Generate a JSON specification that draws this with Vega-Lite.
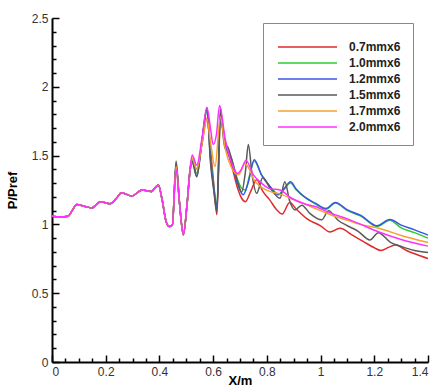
{
  "$schema": "https://vega.github.io/schema/vega-lite/v6.json",
  "autosize": {"type": "none"},
  "padding": {"left": 52, "top": 18, "right": 9, "bottom": 27},
  "width": 376,
  "height": 344,
  "background": "white",
  "config": {
    "view": {"stroke": null},
    "axis": {
      "labelFont": "Liberation Sans", "labelFontSize": 12, "labelColor": "#333",
      "titleFont": "Liberation Sans", "titleFontSize": 13, "titleFontWeight": "bold", "titleColor": "#000"
    }
  },
  "data": {"values": [
    {"s":"0.7mmx6","x":0,"y":1.06},{"s":"0.7mmx6","x":0.03,"y":1.055},{"s":"0.7mmx6","x":0.06,"y":1.06},{"s":"0.7mmx6","x":0.075,"y":1.1},{"s":"0.7mmx6","x":0.092,"y":1.145},{"s":"0.7mmx6","x":0.12,"y":1.132},{"s":"0.7mmx6","x":0.148,"y":1.12},{"s":"0.7mmx6","x":0.181,"y":1.164},{"s":"0.7mmx6","x":0.216,"y":1.15},{"s":"0.7mmx6","x":0.24,"y":1.19},{"s":"0.7mmx6","x":0.259,"y":1.23},{"s":"0.7mmx6","x":0.297,"y":1.207},{"s":"0.7mmx6","x":0.336,"y":1.25},{"s":"0.7mmx6","x":0.369,"y":1.239},{"s":"0.7mmx6","x":0.396,"y":1.287},{"s":"0.7mmx6","x":0.41,"y":1.18},{"s":"0.7mmx6","x":0.425,"y":1.02},{"s":"0.7mmx6","x":0.437,"y":0.985},{"s":"0.7mmx6","x":0.448,"y":0.995},
    {"s":"0.7mmx6","x":0.462,"y":1.42},{"s":"0.7mmx6","x":0.475,"y":1.15},{"s":"0.7mmx6","x":0.489,"y":0.925},{"s":"0.7mmx6","x":0.503,"y":1.15},{"s":"0.7mmx6","x":0.514,"y":1.4},{"s":"0.7mmx6","x":0.522,"y":1.48},{"s":"0.7mmx6","x":0.539,"y":1.4},{"s":"0.7mmx6","x":0.558,"y":1.58},{"s":"0.7mmx6","x":0.577,"y":1.77},{"s":"0.7mmx6","x":0.59,"y":1.55},{"s":"0.7mmx6","x":0.602,"y":1.3},{"s":"0.7mmx6","x":0.614,"y":1.07},{"s":"0.7mmx6","x":0.627,"y":1.75},{"s":"0.7mmx6","x":0.645,"y":1.6},{"s":"0.7mmx6","x":0.67,"y":1.42},{"s":"0.7mmx6","x":0.69,"y":1.27},{"s":"0.7mmx6","x":0.706,"y":1.19},{"s":"0.7mmx6","x":0.72,"y":1.165},{"s":"0.7mmx6","x":0.74,"y":1.24},{"s":"0.7mmx6","x":0.762,"y":1.325},{"s":"0.7mmx6","x":0.785,"y":1.24},{"s":"0.7mmx6","x":0.81,"y":1.18},{"s":"0.7mmx6","x":0.835,"y":1.11},{"s":"0.7mmx6","x":0.857,"y":1.075},{"s":"0.7mmx6","x":0.885,"y":1.16},{"s":"0.7mmx6","x":0.91,"y":1.11},{"s":"0.7mmx6","x":0.95,"y":1.04},{"s":"0.7mmx6","x":1.0,"y":0.99},{"s":"0.7mmx6","x":1.035,"y":0.945},{"s":"0.7mmx6","x":1.072,"y":0.972},{"s":"0.7mmx6","x":1.12,"y":0.92},{"s":"0.7mmx6","x":1.16,"y":0.875},{"s":"0.7mmx6","x":1.2,"y":0.83},{"s":"0.7mmx6","x":1.225,"y":0.81},{"s":"0.7mmx6","x":1.255,"y":0.835},{"s":"0.7mmx6","x":1.28,"y":0.85},{"s":"0.7mmx6","x":1.32,"y":0.81},{"s":"0.7mmx6","x":1.36,"y":0.78},{"s":"0.7mmx6","x":1.4,"y":0.752},

    {"s":"1.0mmx6","x":0,"y":1.06},{"s":"1.0mmx6","x":0.03,"y":1.055},{"s":"1.0mmx6","x":0.06,"y":1.06},{"s":"1.0mmx6","x":0.075,"y":1.1},{"s":"1.0mmx6","x":0.092,"y":1.145},{"s":"1.0mmx6","x":0.12,"y":1.132},{"s":"1.0mmx6","x":0.148,"y":1.12},{"s":"1.0mmx6","x":0.181,"y":1.164},{"s":"1.0mmx6","x":0.216,"y":1.15},{"s":"1.0mmx6","x":0.24,"y":1.19},{"s":"1.0mmx6","x":0.259,"y":1.23},{"s":"1.0mmx6","x":0.297,"y":1.207},{"s":"1.0mmx6","x":0.336,"y":1.25},{"s":"1.0mmx6","x":0.369,"y":1.239},{"s":"1.0mmx6","x":0.396,"y":1.287},{"s":"1.0mmx6","x":0.41,"y":1.18},{"s":"1.0mmx6","x":0.425,"y":1.02},{"s":"1.0mmx6","x":0.437,"y":0.985},{"s":"1.0mmx6","x":0.448,"y":0.995},
    {"s":"1.0mmx6","x":0.462,"y":1.43},{"s":"1.0mmx6","x":0.475,"y":1.15},{"s":"1.0mmx6","x":0.489,"y":0.925},{"s":"1.0mmx6","x":0.503,"y":1.15},{"s":"1.0mmx6","x":0.514,"y":1.39},{"s":"1.0mmx6","x":0.522,"y":1.47},{"s":"1.0mmx6","x":0.539,"y":1.37},{"s":"1.0mmx6","x":0.558,"y":1.6},{"s":"1.0mmx6","x":0.577,"y":1.82},{"s":"1.0mmx6","x":0.59,"y":1.5},{"s":"1.0mmx6","x":0.602,"y":1.28},{"s":"1.0mmx6","x":0.614,"y":1.14},{"s":"1.0mmx6","x":0.627,"y":1.78},{"s":"1.0mmx6","x":0.645,"y":1.6},{"s":"1.0mmx6","x":0.67,"y":1.47},{"s":"1.0mmx6","x":0.69,"y":1.33},{"s":"1.0mmx6","x":0.708,"y":1.26},{"s":"1.0mmx6","x":0.72,"y":1.25},{"s":"1.0mmx6","x":0.735,"y":1.35},{"s":"1.0mmx6","x":0.753,"y":1.46},{"s":"1.0mmx6","x":0.78,"y":1.36},{"s":"1.0mmx6","x":0.81,"y":1.28},{"s":"1.0mmx6","x":0.843,"y":1.22},{"s":"1.0mmx6","x":0.865,"y":1.26},{"s":"1.0mmx6","x":0.888,"y":1.3},{"s":"1.0mmx6","x":0.91,"y":1.25},{"s":"1.0mmx6","x":0.94,"y":1.2},{"s":"1.0mmx6","x":0.98,"y":1.15},{"s":"1.0mmx6","x":1.02,"y":1.11},{"s":"1.0mmx6","x":1.055,"y":1.155},{"s":"1.0mmx6","x":1.1,"y":1.1},{"s":"1.0mmx6","x":1.15,"y":1.06},{"s":"1.0mmx6","x":1.21,"y":0.985},{"s":"1.0mmx6","x":1.258,"y":1.03},{"s":"1.0mmx6","x":1.3,"y":0.975},{"s":"1.0mmx6","x":1.35,"y":0.94},{"s":"1.0mmx6","x":1.4,"y":0.9},

    {"s":"1.2mmx6","x":0,"y":1.06},{"s":"1.2mmx6","x":0.03,"y":1.055},{"s":"1.2mmx6","x":0.06,"y":1.06},{"s":"1.2mmx6","x":0.075,"y":1.1},{"s":"1.2mmx6","x":0.092,"y":1.145},{"s":"1.2mmx6","x":0.12,"y":1.132},{"s":"1.2mmx6","x":0.148,"y":1.12},{"s":"1.2mmx6","x":0.181,"y":1.164},{"s":"1.2mmx6","x":0.216,"y":1.15},{"s":"1.2mmx6","x":0.24,"y":1.19},{"s":"1.2mmx6","x":0.259,"y":1.23},{"s":"1.2mmx6","x":0.297,"y":1.207},{"s":"1.2mmx6","x":0.336,"y":1.25},{"s":"1.2mmx6","x":0.369,"y":1.239},{"s":"1.2mmx6","x":0.396,"y":1.287},{"s":"1.2mmx6","x":0.41,"y":1.18},{"s":"1.2mmx6","x":0.425,"y":1.02},{"s":"1.2mmx6","x":0.437,"y":0.985},{"s":"1.2mmx6","x":0.448,"y":0.995},
    {"s":"1.2mmx6","x":0.462,"y":1.44},{"s":"1.2mmx6","x":0.475,"y":1.15},{"s":"1.2mmx6","x":0.489,"y":0.925},{"s":"1.2mmx6","x":0.503,"y":1.15},{"s":"1.2mmx6","x":0.514,"y":1.39},{"s":"1.2mmx6","x":0.522,"y":1.46},{"s":"1.2mmx6","x":0.539,"y":1.35},{"s":"1.2mmx6","x":0.558,"y":1.6},{"s":"1.2mmx6","x":0.577,"y":1.83},{"s":"1.2mmx6","x":0.59,"y":1.48},{"s":"1.2mmx6","x":0.602,"y":1.27},{"s":"1.2mmx6","x":0.614,"y":1.12},{"s":"1.2mmx6","x":0.627,"y":1.8},{"s":"1.2mmx6","x":0.645,"y":1.58},{"s":"1.2mmx6","x":0.67,"y":1.45},{"s":"1.2mmx6","x":0.69,"y":1.3},{"s":"1.2mmx6","x":0.712,"y":1.215},{"s":"1.2mmx6","x":0.73,"y":1.3},{"s":"1.2mmx6","x":0.753,"y":1.47},{"s":"1.2mmx6","x":0.78,"y":1.36},{"s":"1.2mmx6","x":0.81,"y":1.28},{"s":"1.2mmx6","x":0.843,"y":1.215},{"s":"1.2mmx6","x":0.865,"y":1.26},{"s":"1.2mmx6","x":0.888,"y":1.31},{"s":"1.2mmx6","x":0.91,"y":1.255},{"s":"1.2mmx6","x":0.94,"y":1.2},{"s":"1.2mmx6","x":0.98,"y":1.155},{"s":"1.2mmx6","x":1.02,"y":1.115},{"s":"1.2mmx6","x":1.055,"y":1.16},{"s":"1.2mmx6","x":1.1,"y":1.105},{"s":"1.2mmx6","x":1.15,"y":1.065},{"s":"1.2mmx6","x":1.21,"y":0.99},{"s":"1.2mmx6","x":1.258,"y":1.035},{"s":"1.2mmx6","x":1.3,"y":0.995},{"s":"1.2mmx6","x":1.35,"y":0.96},{"s":"1.2mmx6","x":1.4,"y":0.922},

    {"s":"1.5mmx6","x":0,"y":1.06},{"s":"1.5mmx6","x":0.03,"y":1.055},{"s":"1.5mmx6","x":0.06,"y":1.06},{"s":"1.5mmx6","x":0.075,"y":1.1},{"s":"1.5mmx6","x":0.092,"y":1.145},{"s":"1.5mmx6","x":0.12,"y":1.132},{"s":"1.5mmx6","x":0.148,"y":1.12},{"s":"1.5mmx6","x":0.181,"y":1.164},{"s":"1.5mmx6","x":0.216,"y":1.15},{"s":"1.5mmx6","x":0.24,"y":1.19},{"s":"1.5mmx6","x":0.259,"y":1.23},{"s":"1.5mmx6","x":0.297,"y":1.207},{"s":"1.5mmx6","x":0.336,"y":1.25},{"s":"1.5mmx6","x":0.369,"y":1.239},{"s":"1.5mmx6","x":0.396,"y":1.287},{"s":"1.5mmx6","x":0.41,"y":1.18},{"s":"1.5mmx6","x":0.425,"y":1.02},{"s":"1.5mmx6","x":0.437,"y":0.985},{"s":"1.5mmx6","x":0.448,"y":0.995},
    {"s":"1.5mmx6","x":0.462,"y":1.46},{"s":"1.5mmx6","x":0.475,"y":1.15},{"s":"1.5mmx6","x":0.489,"y":0.925},{"s":"1.5mmx6","x":0.503,"y":1.15},{"s":"1.5mmx6","x":0.514,"y":1.39},{"s":"1.5mmx6","x":0.522,"y":1.45},{"s":"1.5mmx6","x":0.539,"y":1.345},{"s":"1.5mmx6","x":0.558,"y":1.6},{"s":"1.5mmx6","x":0.577,"y":1.85},{"s":"1.5mmx6","x":0.59,"y":1.45},{"s":"1.5mmx6","x":0.602,"y":1.25},{"s":"1.5mmx6","x":0.614,"y":1.09},{"s":"1.5mmx6","x":0.627,"y":1.85},{"s":"1.5mmx6","x":0.638,"y":1.63},{"s":"1.5mmx6","x":0.645,"y":1.55},{"s":"1.5mmx6","x":0.652,"y":1.57},{"s":"1.5mmx6","x":0.665,"y":1.5},{"s":"1.5mmx6","x":0.69,"y":1.32},{"s":"1.5mmx6","x":0.706,"y":1.235},{"s":"1.5mmx6","x":0.72,"y":1.38},{"s":"1.5mmx6","x":0.731,"y":1.58},{"s":"1.5mmx6","x":0.745,"y":1.36},{"s":"1.5mmx6","x":0.762,"y":1.226},{"s":"1.5mmx6","x":0.785,"y":1.34},{"s":"1.5mmx6","x":0.81,"y":1.27},{"s":"1.5mmx6","x":0.849,"y":1.19},{"s":"1.5mmx6","x":0.867,"y":1.31},{"s":"1.5mmx6","x":0.885,"y":1.17},{"s":"1.5mmx6","x":0.905,"y":1.105},{"s":"1.5mmx6","x":0.93,"y":1.14},{"s":"1.5mmx6","x":0.96,"y":1.08},{"s":"1.5mmx6","x":1.004,"y":1.033},{"s":"1.5mmx6","x":1.03,"y":1.1},{"s":"1.5mmx6","x":1.065,"y":1.03},{"s":"1.5mmx6","x":1.1,"y":0.99},{"s":"1.5mmx6","x":1.14,"y":0.95},{"s":"1.5mmx6","x":1.184,"y":0.887},{"s":"1.5mmx6","x":1.215,"y":0.94},{"s":"1.5mmx6","x":1.26,"y":0.87},{"s":"1.5mmx6","x":1.3,"y":0.84},{"s":"1.5mmx6","x":1.35,"y":0.81},{"s":"1.5mmx6","x":1.4,"y":0.795},

    {"s":"1.7mmx6","x":0,"y":1.06},{"s":"1.7mmx6","x":0.03,"y":1.055},{"s":"1.7mmx6","x":0.06,"y":1.06},{"s":"1.7mmx6","x":0.075,"y":1.1},{"s":"1.7mmx6","x":0.092,"y":1.145},{"s":"1.7mmx6","x":0.12,"y":1.132},{"s":"1.7mmx6","x":0.148,"y":1.12},{"s":"1.7mmx6","x":0.181,"y":1.164},{"s":"1.7mmx6","x":0.216,"y":1.15},{"s":"1.7mmx6","x":0.24,"y":1.19},{"s":"1.7mmx6","x":0.259,"y":1.23},{"s":"1.7mmx6","x":0.297,"y":1.207},{"s":"1.7mmx6","x":0.336,"y":1.25},{"s":"1.7mmx6","x":0.369,"y":1.239},{"s":"1.7mmx6","x":0.396,"y":1.287},{"s":"1.7mmx6","x":0.41,"y":1.18},{"s":"1.7mmx6","x":0.425,"y":1.02},{"s":"1.7mmx6","x":0.437,"y":0.985},{"s":"1.7mmx6","x":0.448,"y":0.995},
    {"s":"1.7mmx6","x":0.462,"y":1.42},{"s":"1.7mmx6","x":0.475,"y":1.15},{"s":"1.7mmx6","x":0.489,"y":0.925},{"s":"1.7mmx6","x":0.503,"y":1.15},{"s":"1.7mmx6","x":0.514,"y":1.39},{"s":"1.7mmx6","x":0.522,"y":1.48},{"s":"1.7mmx6","x":0.539,"y":1.4},{"s":"1.7mmx6","x":0.558,"y":1.58},{"s":"1.7mmx6","x":0.577,"y":1.77},{"s":"1.7mmx6","x":0.59,"y":1.6},{"s":"1.7mmx6","x":0.607,"y":1.42},{"s":"1.7mmx6","x":0.627,"y":1.78},{"s":"1.7mmx6","x":0.645,"y":1.55},{"s":"1.7mmx6","x":0.669,"y":1.41},{"s":"1.7mmx6","x":0.694,"y":1.36},{"s":"1.7mmx6","x":0.718,"y":1.44},{"s":"1.7mmx6","x":0.735,"y":1.4},{"s":"1.7mmx6","x":0.75,"y":1.33},{"s":"1.7mmx6","x":0.78,"y":1.27},{"s":"1.7mmx6","x":0.81,"y":1.24},{"s":"1.7mmx6","x":0.85,"y":1.22},{"s":"1.7mmx6","x":0.9,"y":1.18},{"s":"1.7mmx6","x":0.95,"y":1.14},{"s":"1.7mmx6","x":1.0,"y":1.1},{"s":"1.7mmx6","x":1.05,"y":1.06},{"s":"1.7mmx6","x":1.1,"y":1.03},{"s":"1.7mmx6","x":1.15,"y":1.0},{"s":"1.7mmx6","x":1.22,"y":0.97},{"s":"1.7mmx6","x":1.3,"y":0.92},{"s":"1.7mmx6","x":1.4,"y":0.868},

    {"s":"2.0mmx6","x":0,"y":1.06},{"s":"2.0mmx6","x":0.03,"y":1.055},{"s":"2.0mmx6","x":0.06,"y":1.06},{"s":"2.0mmx6","x":0.075,"y":1.1},{"s":"2.0mmx6","x":0.092,"y":1.145},{"s":"2.0mmx6","x":0.12,"y":1.132},{"s":"2.0mmx6","x":0.148,"y":1.12},{"s":"2.0mmx6","x":0.181,"y":1.164},{"s":"2.0mmx6","x":0.216,"y":1.15},{"s":"2.0mmx6","x":0.24,"y":1.19},{"s":"2.0mmx6","x":0.259,"y":1.23},{"s":"2.0mmx6","x":0.297,"y":1.207},{"s":"2.0mmx6","x":0.336,"y":1.25},{"s":"2.0mmx6","x":0.369,"y":1.239},{"s":"2.0mmx6","x":0.396,"y":1.287},{"s":"2.0mmx6","x":0.41,"y":1.18},{"s":"2.0mmx6","x":0.425,"y":1.02},{"s":"2.0mmx6","x":0.437,"y":0.985},{"s":"2.0mmx6","x":0.448,"y":0.995},
    {"s":"2.0mmx6","x":0.462,"y":1.4},{"s":"2.0mmx6","x":0.475,"y":1.15},{"s":"2.0mmx6","x":0.489,"y":0.925},{"s":"2.0mmx6","x":0.503,"y":1.15},{"s":"2.0mmx6","x":0.514,"y":1.4},{"s":"2.0mmx6","x":0.522,"y":1.505},{"s":"2.0mmx6","x":0.539,"y":1.43},{"s":"2.0mmx6","x":0.558,"y":1.62},{"s":"2.0mmx6","x":0.577,"y":1.85},{"s":"2.0mmx6","x":0.59,"y":1.7},{"s":"2.0mmx6","x":0.6,"y":1.58},{"s":"2.0mmx6","x":0.612,"y":1.65},{"s":"2.0mmx6","x":0.624,"y":1.865},{"s":"2.0mmx6","x":0.645,"y":1.62},{"s":"2.0mmx6","x":0.67,"y":1.44},{"s":"2.0mmx6","x":0.69,"y":1.37},{"s":"2.0mmx6","x":0.705,"y":1.4},{"s":"2.0mmx6","x":0.722,"y":1.465},{"s":"2.0mmx6","x":0.75,"y":1.36},{"s":"2.0mmx6","x":0.78,"y":1.3},{"s":"2.0mmx6","x":0.81,"y":1.26},{"s":"2.0mmx6","x":0.849,"y":1.25},{"s":"2.0mmx6","x":0.892,"y":1.19},{"s":"2.0mmx6","x":0.94,"y":1.15},{"s":"2.0mmx6","x":0.98,"y":1.13},{"s":"2.0mmx6","x":1.04,"y":1.08},{"s":"2.0mmx6","x":1.1,"y":1.04},{"s":"2.0mmx6","x":1.15,"y":1.0},{"s":"2.0mmx6","x":1.21,"y":0.95},{"s":"2.0mmx6","x":1.3,"y":0.89},{"s":"2.0mmx6","x":1.4,"y":0.842}
  ]},
  "mark": {"type": "line", "interpolate": "monotone", "strokeWidth": 1.5},
  "encoding": {
    "x": {
      "field": "x", "type": "quantitative",
      "scale": {"domain": [0, 1.4], "nice": false, "zero": false},
      "axis": {
        "title": "X/m",
        "ticks": true,
        "values": [0,0.05,0.1,0.15,0.2,0.25,0.3,0.35,0.4,0.45,0.5,0.55,0.6,0.65,0.7,0.75,0.8,0.85,0.9,0.95,1,1.05,1.1,1.15,1.2,1.25,1.3,1.35,1.4],
        "format": ".1~f",
        "labelExpr": "abs(datum.value*5 - round(datum.value*5)) < 0.001 ? datum.label : ''",
        "tickSize": {"condition": {"test": "abs(datum.value*5 - round(datum.value*5)) < 0.001", "value": -7}, "value": -4},
        "labelPadding": 11,
        "grid": false,
        "domainColor": "#000", "domainWidth": 2,
        "tickColor": "#000", "tickWidth": 1.5,
        "titlePadding": -3
      }
    },
    "y": {
      "field": "y", "type": "quantitative",
      "scale": {"domain": [0, 2.5], "nice": false},
      "axis": {
        "title": "P/Pref",
        "ticks": true,
        "values": [0,0.1,0.2,0.3,0.4,0.5,0.6,0.7,0.8,0.9,1,1.1,1.2,1.3,1.4,1.5,1.6,1.7,1.8,1.9,2,2.1,2.2,2.3,2.4,2.5],
        "format": ".1~f",
        "labelExpr": "abs(datum.value*2 - round(datum.value*2)) < 0.001 ? datum.label : ''",
        "tickSize": {"condition": {"test": "abs(datum.value*2 - round(datum.value*2)) < 0.001", "value": -7}, "value": -4},
        "labelPadding": 11,
        "grid": false,
        "domainColor": "#000", "domainWidth": 2,
        "tickColor": "#000", "tickWidth": 1.5,
        "titlePadding": 12
      }
    },
    "color": {
      "field": "s", "type": "nominal",
      "scale": {
        "domain": ["0.7mmx6","1.0mmx6","1.2mmx6","1.5mmx6","1.7mmx6","2.0mmx6"],
        "range": ["#e02a2a","#2ecc2e","#3a55e8","#5a5a5a","#f5a030","#ff30ff"]
      },
      "legend": {
        "title": " ",
        "titleFontSize": 6,
        "titlePadding": 0,
        "orient": "none",
        "legendX": 211,
        "legendY": 5,
        "padding": 12,
        "strokeColor": "#888",
        "fillColor": "white",
        "symbolType": "stroke",
        "symbolSize": 3481,
        "symbolStrokeWidth": 1.5,
        "symbolOffset": 2,
        "clipHeight": 12,
        "rowPadding": 4,
        "labelOffset": 11,
        "labelFont": "Liberation Sans",
        "labelFontSize": 12,
        "labelFontWeight": "bold",
        "labelColor": "#222"
      }
    }
  }
}
